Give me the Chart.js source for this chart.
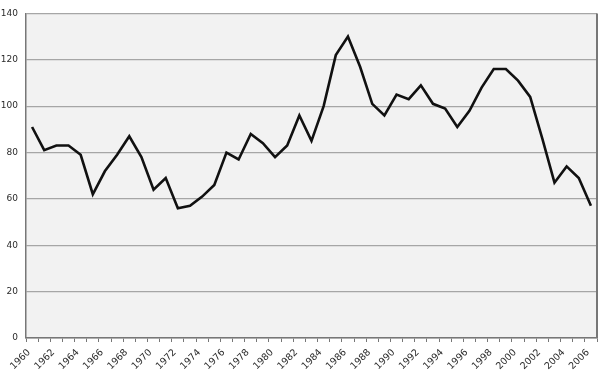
<!DOCTYPE html>
<html>
<head>
<meta charset="utf-8">
<script src="https://cdn.jsdelivr.net/npm/chart.js@4/dist/chart.umd.min.js"></script>
<style>
  html, body { margin: 0; padding: 0; background: #ffffff; }
  #wrap { width: 600px; height: 372px; }
</style>
</head>
<body>
<div id="wrap"><canvas id="lineChart" width="600" height="372"></canvas></div>
<script>
// years 1960 - 2006
var years = [];
for (var y = 1960; y <= 2006; y++) years.push(String(y));

var values = [91, 81, 83, 83, 79, 62, 72, 79, 87, 78,
              64, 69, 56, 57, 61, 66, 80, 77, 88, 84,
              78, 83, 96, 85, 100, 122, 130, 117, 101, 96,
              105, 103, 109, 101, 99, 91, 98, 108, 116, 116,
              111, 104, 86, 67, 74, 69, 57];

var yTicks = [0, 20, 40, 60, 80, 100, 120, 140];

// grey plot area + right border
var plotBg = {
    id: 'plotBg',
    beforeDraw: function(chart) {
        var a = chart.chartArea, c = chart.ctx;
        c.save();
        c.fillStyle = '#f2f2f2';
        c.fillRect(a.left, a.top, a.right - a.left, a.bottom - a.top);
        c.restore();
    },
    afterDraw: function(chart) {
        var a = chart.chartArea, c = chart.ctx;
        c.save();
        c.strokeStyle = '#777777';
        c.lineWidth = 2;
        c.beginPath();
        c.moveTo(a.right, a.top);
        c.lineTo(a.right, a.bottom);
        c.stroke();
        c.restore();
    }
};

document.addEventListener("DOMContentLoaded", function() {
    var ctx = document.getElementById('lineChart').getContext('2d');
    new Chart(ctx, {
        type: 'line',
        data: {
            labels: years,
            datasets: [{
                data: values,
                borderColor: '#111111',
                borderWidth: 2.6,
                pointRadius: 0,
                tension: 0,
                fill: false
            }]
        },
        options: {
            responsive: false,
            animation: false,
            layout: { padding: { top: 6, right: 3, left: 0, bottom: 0 } },
            plugins: {
                legend: { display: false },
                tooltip: { enabled: false }
            },
            scales: {
                x: {
                    offset: true,
                    grid: {
                        offset: true,
                        drawOnChartArea: false,
                        drawTicks: true,
                        tickLength: 4,
                        color: '#777777'
                    },
                    border: { color: '#777777', width: 1.5 },
                    ticks: {
                        autoSkip: false,
                        minRotation: 45,
                        maxRotation: 45,
                        padding: 5,
                        labelOffset: -3,
                        color: '#2a2a2a',
                        font: { family: 'DejaVu Sans', size: 9.5 },
                        callback: function(val, i) {
                            return i % 2 === 0 ? years[i] : '';
                        }
                    },
                    afterFit: function(scale) {
                        scale.height = 34;
                        scale.paddingLeft = 0;
                        scale.paddingRight = 0;
                    }
                },
                y: {
                    min: 0,
                    max: 140,
                    afterBuildTicks: function(scale) {
                        scale.ticks = yTicks.map(function(v) { return { value: v }; });
                    },
                    grid: {
                        color: '#a6a6a6',
                        lineWidth: 1.2,
                        drawTicks: false
                    },
                    border: { color: '#777777', width: 1.5 },
                    ticks: {
                        padding: 8,
                        color: '#2a2a2a',
                        font: { family: 'DejaVu Sans', size: 9 }
                    },
                    afterFit: function(scale) { scale.width = 26; }
                }
            }
        },
        plugins: [plotBg]
    });
});
</script>
</body>
</html>
